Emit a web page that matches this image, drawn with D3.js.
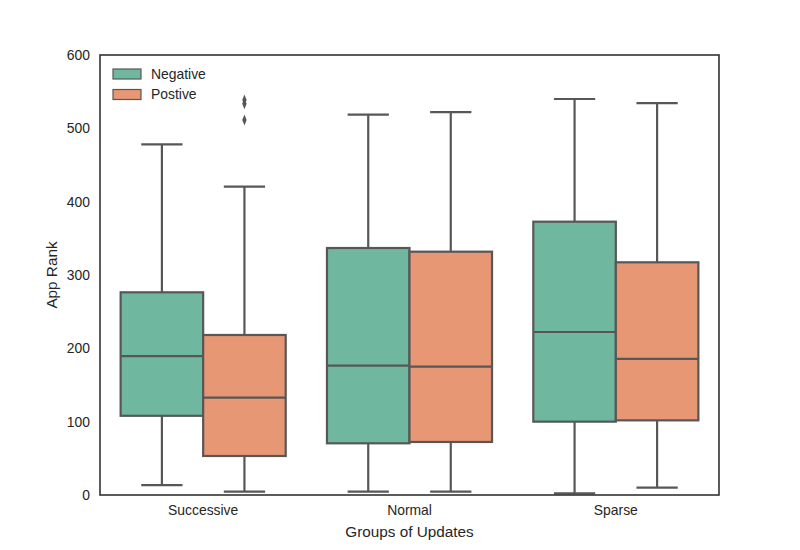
<!DOCTYPE html>
<html>
<head>
<meta charset="utf-8">
<script src="https://cdn.jsdelivr.net/npm/d3@7"></script>
<style>
  body { margin: 0; background: #fff; }
  text { font-family: "Liberation Sans", Arial, sans-serif; fill: #262626; }
</style>
</head>
<body>
<div id="chart"></div>
<script>
const groups = ["Successive", "Normal", "Sparse"];
const hues = ["Negative", "Postive"];
const hueColors = ["#70b7a0", "#e79774"];
const yTicks = [0, 100, 200, 300, 400, 500, 600];

// box stats, one array per hue, in order of groups
const negLow = [13.6, 4.5, 2.3];
const negQ1 = [108, 70.5, 100];
const negMed = [189.5, 176.4, 222.3];
const negQ3 = [276.4, 336.8, 372.7];
const negHigh = [478, 518.6, 540];

const posLow = [4.5, 4.5, 10];
const posQ1 = [53.2, 72.3, 101.8];
const posMed = [132.7, 175, 185.5];
const posQ3 = [218.2, 331.8, 317.3];
const posHigh = [420.4, 522, 534.5];

// outliers: [group, hue, value]
const outliers = [
  ["Successive", "Postive", 538.6],
  ["Successive", "Postive", 533.5],
  ["Successive", "Postive", 511.4]
];

const boxes = [];
groups.forEach((g, i) => {
  boxes.push({group: g, hue: "Negative", low: negLow[i], q1: negQ1[i], med: negMed[i], q3: negQ3[i], high: negHigh[i]});
  boxes.push({group: g, hue: "Postive", low: posLow[i], q1: posQ1[i], med: posMed[i], q3: posQ3[i], high: posHigh[i]});
});

const width = 800, height = 550;
const margin = {top: 55, right: 81, bottom: 55, left: 100};
const lineColor = "#575757";

const svg = d3.select("#chart").append("svg")
  .attr("width", width)
  .attr("height", height);

const x = d3.scaleBand()
  .domain(groups)
  .range([margin.left, width - margin.right])
  .padding(0);

const xh = d3.scaleBand()
  .domain(hues)
  .range([0, x.bandwidth()])
  .paddingInner(0)
  .paddingOuter(0.25);

const y = d3.scaleLinear()
  .domain([0, 600])
  .range([height - margin.bottom, margin.top]);

const color = d3.scaleOrdinal(hues, hueColors);

// axes (no tick marks, labels only)
const xAxis = svg.append("g")
  .attr("transform", `translate(0,${height - margin.bottom})`)
  .call(d3.axisBottom(x).tickSize(0).tickPadding(10));
xAxis.select(".domain").remove();
xAxis.selectAll("text").style("font-size", "13.9px").attr("fill", "#262626");

const yAxis = svg.append("g")
  .attr("transform", `translate(${margin.left},0)`)
  .call(d3.axisLeft(y).tickValues(yTicks).tickSize(0).tickPadding(10));
yAxis.select(".domain").remove();
yAxis.selectAll("text").style("font-size", "13.9px").attr("fill", "#262626");

svg.append("text")
  .attr("x", (margin.left + width - margin.right) / 2)
  .attr("y", 537)
  .attr("text-anchor", "middle")
  .style("font-size", "15.3px")
  .text("Groups of Updates");

svg.append("text")
  .attr("transform", `translate(57,${(margin.top + height - margin.bottom) / 2}) rotate(-90)`)
  .attr("text-anchor", "middle")
  .style("font-size", "15.3px")
  .text("App Rank");

const bw = xh.bandwidth();
const bx = d => x(d.group) + xh(d.hue);
const cx = d => bx(d) + bw / 2;

const boxG = svg.append("g")
  .selectAll("g")
  .data(boxes)
  .enter()
  .append("g");

// whiskers
boxG.append("line")
  .attr("x1", cx).attr("x2", cx)
  .attr("y1", d => y(d.q3)).attr("y2", d => y(d.high))
  .attr("stroke", lineColor).attr("stroke-width", 2.2);
boxG.append("line")
  .attr("x1", cx).attr("x2", cx)
  .attr("y1", d => y(d.q1)).attr("y2", d => y(d.low))
  .attr("stroke", lineColor).attr("stroke-width", 2.2);

// caps
boxG.append("line")
  .attr("x1", d => cx(d) - bw / 4).attr("x2", d => cx(d) + bw / 4)
  .attr("y1", d => y(d.high)).attr("y2", d => y(d.high))
  .attr("stroke", lineColor).attr("stroke-width", 2.2);
boxG.append("line")
  .attr("x1", d => cx(d) - bw / 4).attr("x2", d => cx(d) + bw / 4)
  .attr("y1", d => y(d.low)).attr("y2", d => y(d.low))
  .attr("stroke", lineColor).attr("stroke-width", 2.2);

// boxes
boxG.append("rect")
  .attr("x", bx)
  .attr("width", bw)
  .attr("y", d => y(d.q3))
  .attr("height", d => y(d.q1) - y(d.q3))
  .attr("fill", d => color(d.hue))
  .attr("stroke", lineColor)
  .attr("stroke-width", 2.2);

// medians
boxG.append("line")
  .attr("x1", bx).attr("x2", d => bx(d) + bw)
  .attr("y1", d => y(d.med)).attr("y2", d => y(d.med))
  .attr("stroke", lineColor).attr("stroke-width", 2.2);

// fliers
svg.append("g")
  .selectAll("path")
  .data(outliers)
  .enter()
  .append("path")
  .attr("d", d3.symbol().type(d3.symbolDiamond).size(26))
  .attr("transform", d => `translate(${x(d[0]) + xh(d[1]) + bw / 2},${y(d[2])}) scale(0.8,1.15)`)
  .attr("fill", lineColor);

// frame
svg.append("rect")
  .attr("x", margin.left)
  .attr("y", margin.top)
  .attr("width", width - margin.left - margin.right)
  .attr("height", height - margin.top - margin.bottom)
  .attr("fill", "none")
  .attr("stroke", "#333")
  .attr("stroke-width", 1.6);

// legend
const legend = svg.append("g")
  .selectAll("g")
  .data(hues)
  .enter()
  .append("g")
  .attr("transform", (d, i) => `translate(113,${69 + i * 20.5})`);

legend.append("rect")
  .attr("width", 28)
  .attr("height", 10)
  .attr("fill", d => color(d))
  .attr("stroke", lineColor)
  .attr("stroke-width", 1.2);

legend.append("text")
  .attr("x", 38)
  .attr("y", 5)
  .attr("dy", "0.35em")
  .style("font-size", "13.9px")
  .text(d => d);
</script>
</body>
</html>
